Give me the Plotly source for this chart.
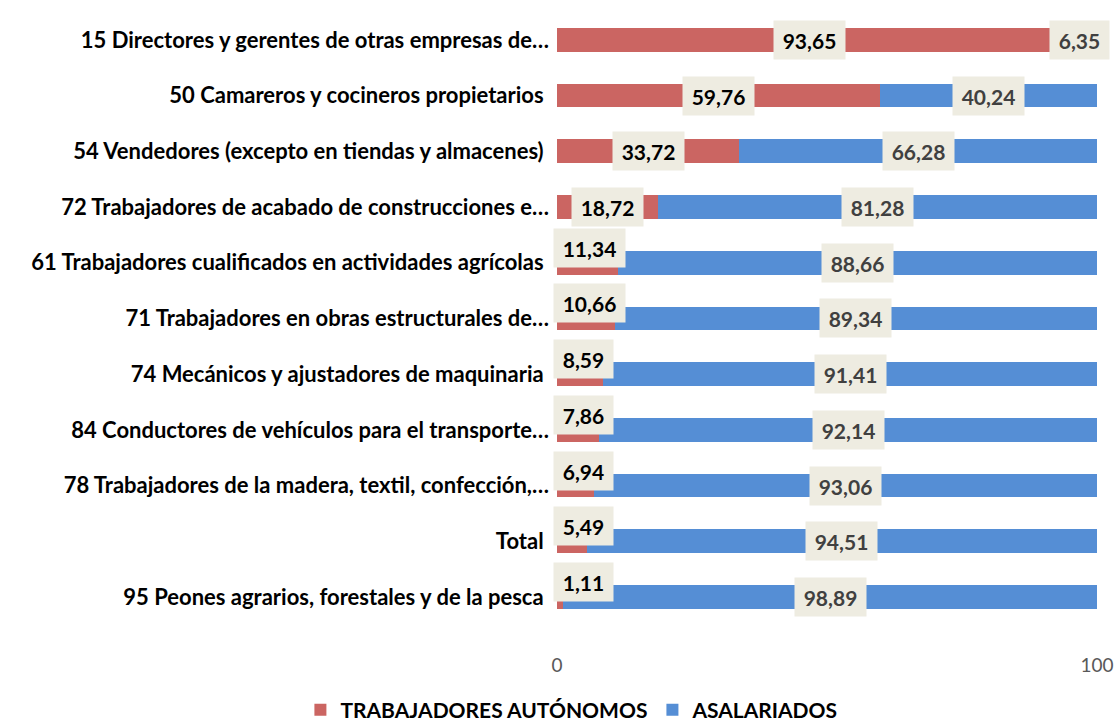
import plotly.graph_objects as go

categories = [
    "15 Directores y gerentes de otras empresas de…",
    "50 Camareros y cocineros propietarios\u00a0",
    "54 Vendedores (excepto en tiendas y almacenes)\u00a0",
    "72 Trabajadores de acabado de construcciones e…",
    "61 Trabajadores cualificados en actividades agrícolas\u00a0",
    "71 Trabajadores en obras estructurales de…",
    "74 Mecánicos y ajustadores de maquinaria\u00a0",
    "84 Conductores de vehículos para el transporte…",
    "78 Trabajadores de la madera, textil, confección,…",
    "Total\u00a0",
    "95 Peones agrarios, forestales y de la pesca\u00a0",
]
autonomos = [93.65, 59.76, 33.72, 18.72, 11.34, 10.66, 8.59, 7.86, 6.94, 5.49, 1.11]
asalariados = [6.35, 40.24, 66.28, 81.28, 88.66, 89.34, 91.41, 92.14, 93.06, 94.51, 98.89]
series_names = ["TRABAJADORES AUTÓNOMOS", "ASALARIADOS"]
x_ticks = [0, 100]

RED = "#CB6562"
BLUE = "#558ED5"
BOX = "#EEECE1"
FONT = "Lato"

fig = go.Figure()
fig.add_trace(go.Bar(y=categories, x=autonomos, orientation="h", name=series_names[0],
                     marker=dict(color=RED, line=dict(width=0)), hoverinfo="x+y"))
fig.add_trace(go.Bar(y=categories, x=asalariados, orientation="h", name=series_names[1],
                     marker=dict(color=BLUE, line=dict(width=0)), hoverinfo="x+y"))

def fmt(v):
    return f"{v:.2f}".replace(".", ",")

annotations = []
for cat, a, s in zip(categories, autonomos, asalariados):
    ta = fmt(a)
    common = dict(showarrow=False, bgcolor=BOX, borderpad=4, height=30, yref="y", xref="x",
                  font=dict(family=FONT, size=21, color="#000000", weight="bold"))
    if a >= 15:
        annotations.append(dict(x=a / 2, y=cat, text=ta, xanchor="center",
                                width=12 * len(ta) + 3, **common))
    else:
        annotations.append(dict(x=0, y=cat, text=ta, xanchor="left", xshift=-4, yshift=15,
                                width=12 * len(ta) + 3, **common))
    ts = fmt(s)
    c2 = dict(common)
    c2["font"] = dict(family=FONT, size=21, color="#404040", weight="bold")
    annotations.append(dict(x=a + s / 2, y=cat, text=ts, xanchor="center",
                            width=12 * len(ts) + 3, **c2))

fig.update_layout(
    barmode="stack",
    width=1117, height=726,
    margin=dict(l=557, r=20, t=12, b=94, autoexpand=False),
    paper_bgcolor="white", plot_bgcolor="white",
    bargap=0.575,
    font=dict(family=FONT),
    showlegend=True,
    legend=dict(orientation="h", x=0.512, xref="container", xanchor="center",
                y=0.022, yref="container", yanchor="middle",
                font=dict(family=FONT, size=21, color="#000000", weight="bold"),
                traceorder="normal", itemwidth=30),
    annotations=annotations,
    xaxis=dict(range=[0, 100], tickvals=x_ticks, ticktext=[str(t) for t in x_ticks],
               showgrid=True, gridcolor="#D9D9D9", gridwidth=2, zeroline=False,
               tickfont=dict(family=FONT, size=19, color="#595959"),
               showline=False, ticks="", ticklabelstandoff=20, automargin=False),
    yaxis=dict(categoryorder="array", categoryarray=categories, autorange="reversed",
               tickfont=dict(family=FONT, size=22, color="#000000", weight="bold"),
               showgrid=False, ticks="", ticklabelstandoff=7, showline=False, automargin=False),
)

fig.write_html("out.html", config={"displayModeBar": False},
               post_script="document.body.style.margin='0';document.body.style.overflow='hidden';")
